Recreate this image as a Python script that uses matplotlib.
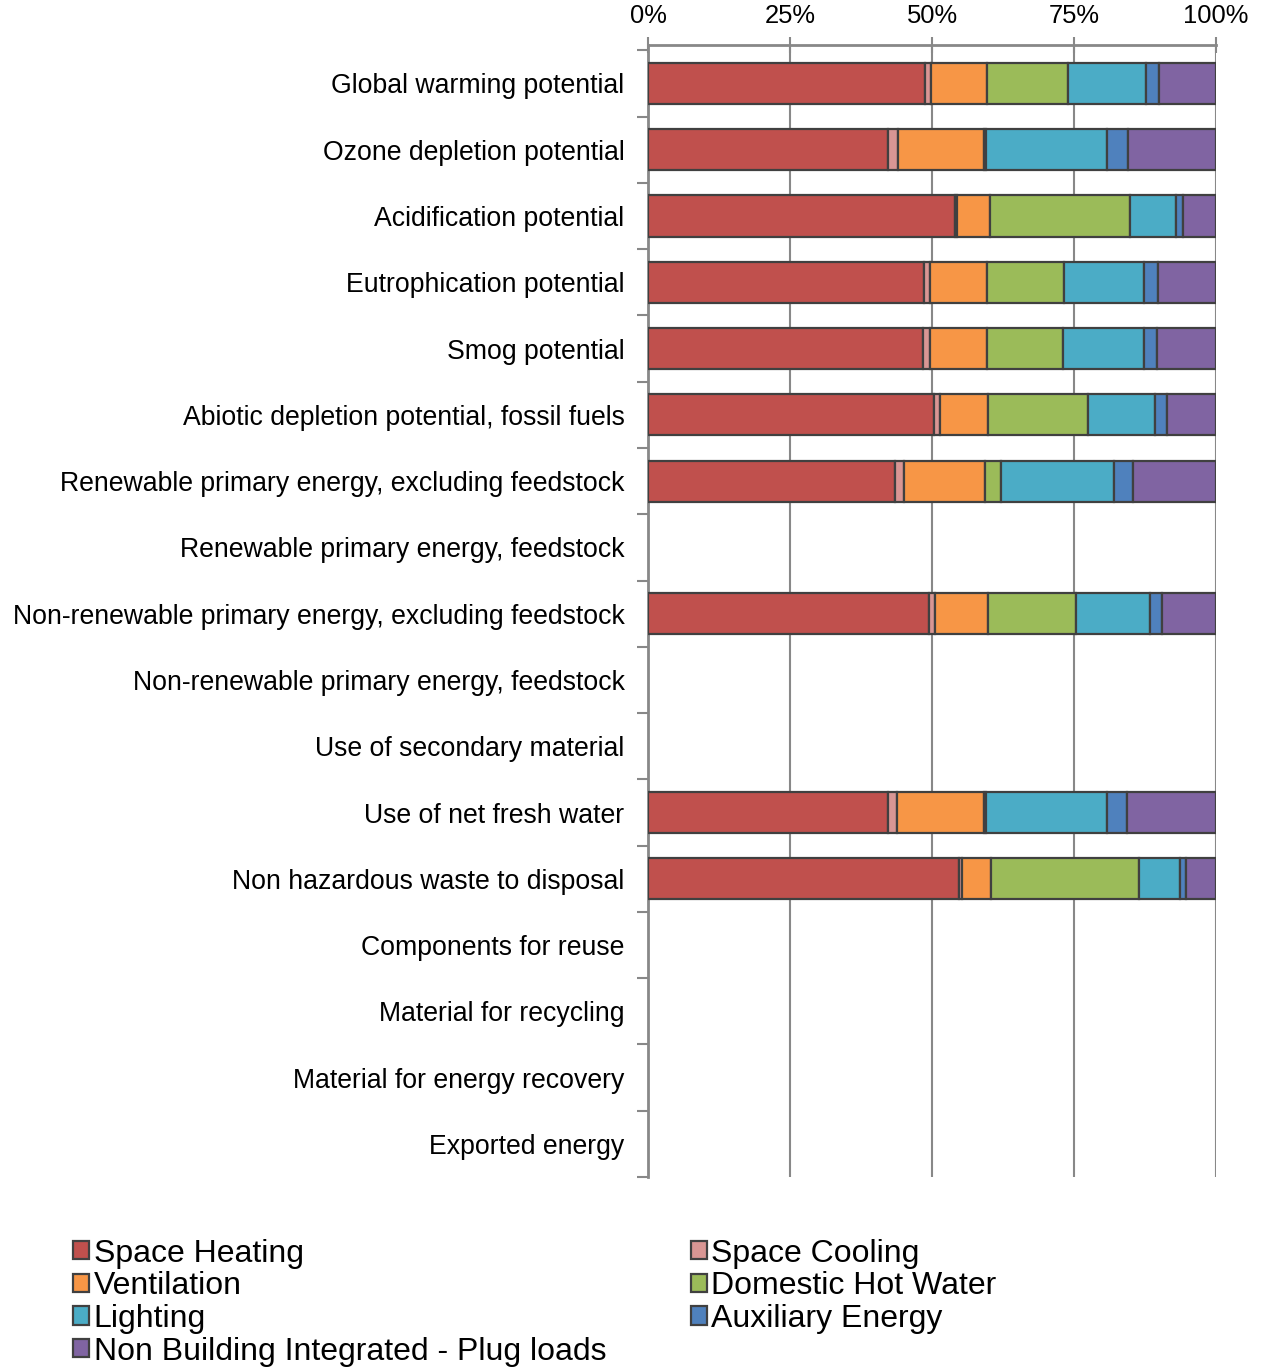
import matplotlib.pyplot as plt
import numpy as np

plt.rcParams['font.family'] = ['Liberation Sans', 'DejaVu Sans']

categories = [
    'Global warming potential',
    'Ozone depletion potential',
    'Acidification potential',
    'Eutrophication potential',
    'Smog potential',
    'Abiotic depletion potential, fossil fuels',
    'Renewable primary energy, excluding feedstock',
    'Renewable primary energy, feedstock',
    'Non-renewable primary energy, excluding feedstock',
    'Non-renewable primary energy, feedstock',
    'Use of secondary material',
    'Use of net fresh water',
    'Non hazardous waste to disposal',
    'Components for reuse',
    'Material for recycling',
    'Material for energy recovery',
    'Exported energy',
]

# shares in % per category (0 = no data)
space_heating = [48.7, 42.3, 54.0, 48.5, 48.4, 50.4, 43.4, 0, 49.4, 0, 0, 42.2, 54.7, 0, 0, 0, 0]
space_cooling = [1.1, 1.7, 0.4, 1.1, 1.2, 1.0, 1.6, 0, 1.1, 0, 0, 1.7, 0.5, 0, 0, 0, 0]
ventilation = [9.9, 15.2, 5.8, 10.1, 10.1, 8.5, 14.4, 0, 9.3, 0, 0, 15.3, 5.1, 0, 0, 0, 0]
hot_water = [14.2, 0.4, 24.7, 13.6, 13.4, 17.5, 2.7, 0, 15.5, 0, 0, 0.3, 26.2, 0, 0, 0, 0]
lighting = [13.7, 21.3, 8.0, 14.1, 14.2, 11.9, 19.9, 0, 13.0, 0, 0, 21.3, 7.1, 0, 0, 0, 0]
auxiliary = [2.3, 3.6, 1.3, 2.3, 2.3, 2.0, 3.4, 0, 2.2, 0, 0, 3.6, 1.2, 0, 0, 0, 0]
plug_loads = [10.1, 15.6, 5.8, 10.3, 10.4, 8.7, 14.6, 0, 9.5, 0, 0, 15.6, 5.2, 0, 0, 0, 0]

series = [
    ('Space Heating', space_heating, '#C0504D'),
    ('Space Cooling', space_cooling, '#D99694'),
    ('Ventilation', ventilation, '#F79646'),
    ('Domestic Hot Water', hot_water, '#9BBB59'),
    ('Lighting', lighting, '#4BACC6'),
    ('Auxiliary Energy', auxiliary, '#4F81BD'),
    ('Non Building Integrated - Plug loads', plug_loads, '#8064A2'),
]
xticklabels = ['0%', '25%', '50%', '75%', '100%']

fig = plt.figure(figsize=(12.63, 13.68), dpi=100)
ax = fig.add_axes([0.5131, 0.1396, 0.4497, 0.8275])

y = np.arange(len(categories))
totals = np.sum([s[1] for s in series], axis=0)
left = np.zeros(len(categories))
handles = {}
for name, vals, col in series:
    vals = np.array(vals, dtype=float)
    share = np.where(totals > 0, vals / np.where(totals > 0, totals, 1) * 100, 0)
    idx = share > 0
    h = ax.barh(y[idx], share[idx], left=left[idx], height=0.62, color=col,
                edgecolor='#404040', linewidth=1.6, zorder=3, label=name)
    handles[name] = h
    left += share

ax.set_xlim(0, 100)
ax.set_ylim(len(categories) - 0.5, -0.58)
ax.set_xticks([0, 25, 50, 75, 100])
ax.set_xticklabels(xticklabels, fontsize=18.4)
ax.xaxis.tick_top()
ax.tick_params(axis='x', direction='inout', length=12, width=1.5, color='#888888', pad=6)
ax.grid(axis='x', color='#888888', linewidth=1.5, zorder=0)

ax.set_yticks(y)
ax.set_yticklabels(categories, fontsize=19.2)
ax.set_yticks(np.arange(-0.5, len(categories), 1), minor=True)
ax.tick_params(axis='y', which='major', length=0, pad=17)
ax.tick_params(axis='y', which='minor', direction='out', length=8, width=1.5, color='#888888')

for side in ['right', 'bottom']:
    ax.spines[side].set_visible(False)
for side in ['left', 'top']:
    ax.spines[side].set_color('#888888')
    ax.spines[side].set_linewidth(2)

order = ['Space Heating', 'Ventilation', 'Lighting', 'Non Building Integrated - Plug loads',
         'Space Cooling', 'Domestic Hot Water', 'Auxiliary Energy']
leg = fig.legend([handles[n] for n in order], order, ncol=2, loc='upper left',
                 bbox_to_anchor=(0.0475, 0.104), frameon=False, fontsize=23,
                 handlelength=0.5, handleheight=0.5, handletextpad=0.15,
                 labelspacing=0.085, columnspacing=2.65, borderaxespad=0)

fig.savefig('out.png', dpi=100)
